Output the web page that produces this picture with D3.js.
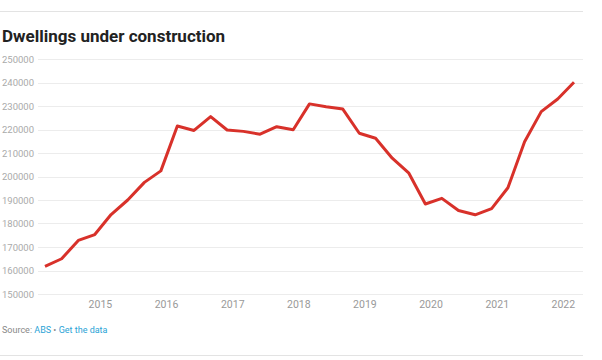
<!DOCTYPE html>
<html>
<head>
<meta charset="utf-8">
<script src="https://cdn.jsdelivr.net/npm/d3@7"></script>
<style>
  body { margin: 0; background: #fff; font-family: Roboto, sans-serif; }
</style>
</head>
<body>
<div id="chart"></div>
<script>
// quarterly, Mar 2014 .. Mar 2022
var quarters = d3.range(33).map(function(i) { return new Date(2014, 2 + i * 3, 1); });
var dwellings = [161800, 165000, 172800, 175300, 183800, 190000, 197500, 202400,
    221500, 219600, 225500, 219800, 219200, 218000, 221200, 219900,
    230900, 229700, 228700, 218400, 216300, 207800, 201400, 188300,
    190700, 185500, 183700, 186300, 195200, 214800, 227600, 233000, 240100];
var yTicks = [150000, 160000, 170000, 180000, 190000, 200000, 210000, 220000, 230000, 240000, 250000];
var xTicks = [2015, 2016, 2017, 2018, 2019, 2020, 2021, 2022];

var width = 602, height = 360;

var svg = d3.select('#chart').append('svg')
    .attr('width', width)
    .attr('height', height);

// top and bottom rules
svg.append('line').attr('x1', 0).attr('x2', 583).attr('y1', 11.5).attr('y2', 11.5)
    .attr('stroke', '#e3e3e3').attr('stroke-width', 1);
svg.append('line').attr('x1', 0).attr('x2', 583).attr('y1', 355.5).attr('y2', 355.5)
    .attr('stroke', '#e3e3e3').attr('stroke-width', 1);

svg.append('text')
    .attr('x', 2).attr('y', 42)
    .style('font-size', '17px').style('font-weight', 'bold')
    .attr('fill', '#222')
    .text('Dwellings under construction');

var x = d3.scaleTime()
    .domain([new Date(2014, 2, 1), new Date(2022, 2, 1)])
    .range([45, 574]);

var y = d3.scaleLinear()
    .domain([150000, 250000])
    .range([294, 59]);

// gridlines + y labels
var grid = svg.append('g');
grid.selectAll('line').data(yTicks).enter().append('line')
    .attr('x1', 38).attr('x2', 583)
    .attr('y1', d => Math.round(y(d)) + 0.5)
    .attr('y2', d => Math.round(y(d)) + 0.5)
    .attr('stroke', '#ececec').attr('stroke-width', 1);
grid.selectAll('text').data(yTicks).enter().append('text')
    .attr('x', 2).attr('y', d => y(d) + 3.5)
    .style('font-size', '9.5px')
    .attr('fill', '#aaa')
    .text(d => d);

// x labels
svg.append('g').selectAll('text').data(xTicks).enter().append('text')
    .attr('x', d => x(new Date(d, 0, 1)))
    .attr('y', 308)
    .attr('text-anchor', 'middle')
    .style('font-size', '10.5px')
    .attr('fill', '#999')
    .text(d => d);

var line = d3.line()
    .x((d, i) => x(quarters[i]))
    .y(d => y(d));

svg.append('path')
    .datum(dwellings)
    .attr('d', line)
    .attr('fill', 'none')
    .attr('stroke', '#d8312a')
    .attr('stroke-width', 3)
    .attr('stroke-linejoin', 'round');

// source line
var src = svg.append('text')
    .attr('x', 2).attr('y', 333)
    .style('font-size', '9px');
src.append('tspan').attr('fill', '#888').text('Source: ');
src.append('tspan').attr('fill', '#2aa3d6').text('ABS');
src.append('tspan').attr('fill', '#888').text(' • ');
src.append('tspan').attr('fill', '#2aa3d6').text('Get the data');
</script>
</body>
</html>
